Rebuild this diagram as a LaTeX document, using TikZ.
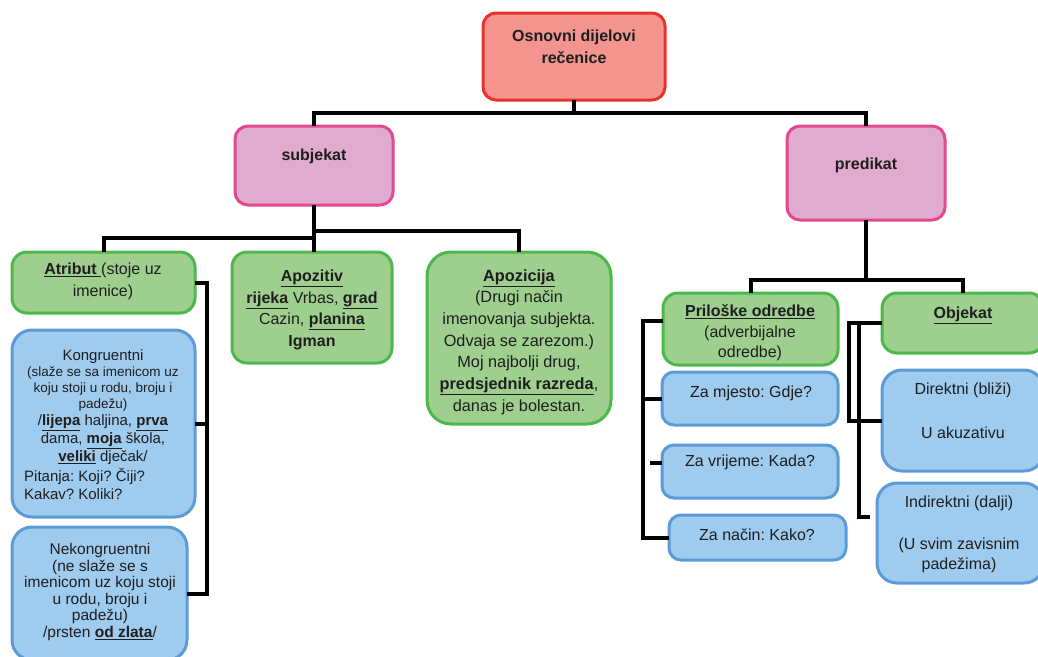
\documentclass[tikz,border=0pt]{standalone}
\usepackage{fontspec}
\setmainfont{Liberation Sans}
\usetikzlibrary{calc}
\definecolor{rootfill}{HTML}{F3948F}
\definecolor{rootdraw}{HTML}{E9322E}
\definecolor{pinkfill}{HTML}{E1AACF}
\definecolor{pinkdraw}{HTML}{E2498F}
\definecolor{greenfill}{HTML}{9ECF8F}
\definecolor{greendraw}{HTML}{4BB849}
\definecolor{bluefill}{HTML}{9FCBEF}
\definecolor{bluedraw}{HTML}{5B9BD6}
\definecolor{textc}{HTML}{1E1E1E}
\newcommand\ubf[1]{\underline{\textbf{#1}}}
\frenchspacing
\begin{document}
\begin{tikzpicture}[x=1pt,y=-1pt,
  box/.style={draw, line width=3pt, rounded corners=15pt, anchor=north west, inner sep=0pt, outer sep=0pt},
  rootbox/.style={box, draw=rootdraw, fill=rootfill, rounded corners=13pt},
  pinkbox/.style={box, draw=pinkdraw, fill=pinkfill, rounded corners=13pt},
  greenbox/.style={box, draw=greendraw, fill=greenfill},
  bluebox/.style={box, draw=bluedraw, fill=bluefill},
  conn/.style={draw=black, line width=4pt},
  txt/.style={text=textc, align=center, inner sep=0pt, font=\fontsize{16}{21.5}\selectfont},
]
\useasboundingbox (0,0) rectangle (1038,656);
% boxes
\node[rootbox, minimum width=182pt, minimum height=87pt] (root) at (483,13) {};
\node[pinkbox, minimum width=158pt, minimum height=79pt] (sub) at (235,126) {};
\node[pinkbox, minimum width=158pt, minimum height=94pt] (pred) at (787,126) {};
\node[greenbox, minimum width=183pt, minimum height=61pt] (atr) at (12,252) {};
\node[greenbox, minimum width=160pt, minimum height=111pt] (apz) at (232,252) {};
\node[greenbox, minimum width=184pt, minimum height=172pt, rounded corners=24pt] (apc) at (427,252) {};
\node[bluebox, minimum width=183pt, minimum height=187pt, rounded corners=20pt] (kon) at (12,330) {};
\node[bluebox, minimum width=175pt, minimum height=133pt, rounded corners=20pt] (nek) at (12,527) {};
\node[greenbox, minimum width=175pt, minimum height=72pt] (pri) at (663,293) {};
\node[greenbox, minimum width=162pt, minimum height=60pt] (obj) at (882,293) {};
\node[bluebox, minimum width=176pt, minimum height=53pt, rounded corners=12pt] (zm) at (662,372) {};
\node[bluebox, minimum width=176pt, minimum height=53pt, rounded corners=12pt] (zv) at (662,445) {};
\node[bluebox, minimum width=177pt, minimum height=45pt, rounded corners=12pt] (zn) at (669,515) {};
\node[bluebox, minimum width=162pt, minimum height=101pt, rounded corners=20pt] (dir) at (882,370) {};
\node[bluebox, minimum width=167pt, minimum height=100pt, rounded corners=20pt] (ind) at (877,483) {};
% connector points
\coordinate (yr) at (0,113);
\coordinate (sjL) at (0,238);
\coordinate (sjR) at (0,231);
\coordinate (lb) at (207,593.5);
\coordinate (yp) at (0,280);
\coordinate (pt) at (643,321);
\coordinate (vs) at (650,463);
\coordinate (oa) at (849,0);
\coordinate (ob) at (859,323);
\coordinate (oe) at (870,517);
% connectors
\draw[conn] (root.south) -- (root.south |- yr);
\draw[conn] (sub.north) |- (root.south |- yr) -| (pred.north);
\draw[conn] (sub.south) -- (sub.south |- apz.north);
\draw[conn] (atr.north) |- (sub.south |- sjL);
\draw[conn] (apc.north) |- (sub.south |- sjR);
\draw[conn] (atr.east) -| (lb) -- (nek.east);
\draw[conn] (kon.east) -- (kon.east -| lb);
\draw[conn] (pred.south) -- (pred.south |- yp);
\draw[conn] (pri.north) |- (pred.south |- yp) -| (obj.north);
\draw[conn] (pri.west |- pt) -- (pt) |- (zn.west);
\draw[conn] (zm.west) -- (zm.west -| pt);
\draw[conn] (vs) -- (vs -| zv.west);
\draw[conn] (obj.west) -- (oa |- obj.west) |- (dir.west);
\draw[conn] (ob) |- (oe);
% texts
\node[txt, font=\fontsize{16}{22}\selectfont\bfseries] (troot) at (574,47) {Osnovni dijelovi\\rečenice};
\node[txt, font=\fontsize{16}{22}\selectfont\bfseries] (tsub) at (314,156) {subjekat};
\node[txt, font=\fontsize{16}{22}\selectfont\bfseries] (tpred) at (866,165) {predikat};
\node[txt, font=\fontsize{16}{22}\selectfont] (tatr) at (103,281) {\ubf{Atribut }(stoje uz\\imenice)};
\node[txt] (tapz) at (312,310) {\ubf{Apozitiv}\\\ubf{rijeka} Vrbas, \ubf{grad}\\Cazin, \ubf{planina}\\\textbf{Igman}};
\node[txt, font=\fontsize{16.3}{21.7}\selectfont] (tapc) at (519,342) {\ubf{Apozicija}\\(Drugi način\\imenovanja subjekta.\\Odvaja se zarezom.)\\Moj najbolji drug,\\\ubf{predsjednik razreda},\\danas je bolestan.};
\node[txt, font=\fontsize{15}{18}\selectfont] (tk1) at (103,357) {Kongruentni};
\node[txt, font=\fontsize{13.5}{16.3}\selectfont] (tk2) at (103,389) {(slaže se sa imenicom uz\\koju stoji u rodu, broju i\\padežu)};
\node[txt, font=\fontsize{15}{18}\selectfont] (tk3) at (103,440) {/\ubf{lijepa} haljina, \ubf{prva}\\dama, \ubf{moja} škola,\\\ubf{veliki} dječak/};
\node[txt, font=\fontsize{15}{18}\selectfont, align=left, anchor=west] (tk4) at (24,484) {Pitanja: Koji? Čiji?\\Kakav? Koliki?};
\node[txt, font=\fontsize{15.5}{16.5}\selectfont] (tnek) at (100,592) {Nekongruentni\\(ne slaže se s\\imenicom uz koju stoji\\u rodu, broju i\\padežu)\\/prsten \ubf{od zlata}/};
\node[txt, font=\fontsize{16}{20.5}\selectfont] (tpri) at (750,333) {\ubf{Priloške odredbe}\\(adverbijalne\\odredbe)};
\node[txt] (tobj) at (963,315) {\ubf{Objekat}};
\node[txt] (tzm) at (751,393) {Za mjesto: Gdje?};
\node[txt] (tzv) at (750,462) {Za vrijeme: Kada?};
\node[txt] (tzn) at (757,535) {Za način: Kako?};
\node[txt] (td1) at (963,390) {Direktni (bliži)};
\node[txt] (td2) at (963,433) {U akuzativu};
\node[txt] (ti1) at (959,503) {Indirektni (dalji)};
\node[txt, font=\fontsize{16}{20}\selectfont] (ti2) at (959,555) {(U svim zavisnim\\padežima)};
\end{tikzpicture}
\end{document}
